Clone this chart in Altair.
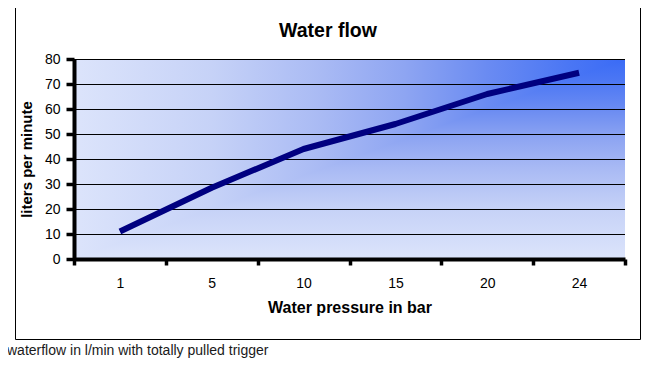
import altair as alt
import pandas as pd

# ---- data ----
pressure = ["1", "5", "10", "15", "20", "24"]
flow = [11, 28.5, 44, 54, 66, 74.5]
y_ticks = [0, 10, 20, 30, 40, 50, 60, 70, 80]

title_text = "Water flow"
x_title = "Water pressure in bar"
y_title = "liters per minute"
caption = "waterflow in l/min with totally pulled trigger"

# ---- styling ----
W, H = 551, 200
FONT = "Liberation Sans, Arial, Helvetica, sans-serif"
grad_offsets = [0.0, 0.1, 0.25, 0.4, 0.55, 0.75, 1.0]
grad_colors = ["#3a6bf6", "#4a76f4", "#6a8bf2", "#8ea5f2", "#a9baf4", "#c6d2f7", "#dce4fb"]
stops = [{"offset": o, "color": c} for o, c in zip(grad_offsets, grad_colors)]

df = pd.DataFrame({"pressure": pressure, "flow": flow})
grid_df = pd.DataFrame({"v": y_ticks})
one = alt.Data(values=[{"t": 0}])

y_scale = alt.Scale(domain=[0, 80], nice=False, zero=True)
y_axis = alt.Axis(
    title=y_title, values=y_ticks, grid=False,
    domainColor="black", domainWidth=4, tickColor="black", tickWidth=3.5, tickSize=8,
    labelFont=FONT, labelFontSize=14, labelColor="black", labelPadding=6,
    titleFont=FONT, titleFontSize=15, titleFontWeight="bold", titleColor="black",
    titleAngle=270, titleX=-48, titleY=H / 2, titleAlign="center", titleBaseline="middle",
    zindex=1,
)

# background: vertical gradient (lower-right part of the "from corner" fill)
bg = alt.Chart(one).mark_rect(
    color={"gradient": "linear", "x1": 0, "y1": 0, "x2": 0, "y2": 1, "stops": stops}
).encode(x=alt.value(0), x2=alt.value(W), y=alt.value(0), y2=alt.value(H))

# upper-left triangle with horizontal gradient
tri = alt.Chart(alt.Data(values=[{"px": 0, "py": H}, {"px": W, "py": 0}])).mark_area(
    color={"gradient": "linear", "x1": 1, "y1": 0, "x2": 0, "y2": 0, "stops": stops}
).encode(
    x=alt.X("px:Q", scale=None),
    y=alt.Y("py:Q", scale=None),
    y2=alt.value(0),
)

grid = alt.Chart(grid_df).mark_rule(color="black", strokeWidth=1, yOffset=0.5).encode(
    y=alt.Y("v:Q", scale=y_scale, axis=y_axis)
)

line = alt.Chart(df).mark_line(
    color="#000080", strokeWidth=6, strokeCap="butt", strokeJoin="round"
).encode(
    x=alt.X(
        "pressure:O",
        sort=pressure,
        bandPosition=0.5,
        scale=alt.Scale(type="band", paddingInner=0, paddingOuter=0),
        axis=alt.Axis(
            title=x_title, grid=False, labelAngle=0, tickBand="extent",
            domainColor="black", domainWidth=4, tickColor="black", tickWidth=3.5, tickSize=6,
            labelFont=FONT, labelFontSize=14, labelColor="black", labelPadding=11,
            titleFont=FONT, titleFontSize=16, titleFontWeight="bold", titleColor="black",
            titleX=W / 2, titleY=40, titleBaseline="top", titleAlign="center", zindex=1,
        ),
    ),
    y=alt.Y("flow:Q", scale=y_scale, axis=y_axis),
)

title = alt.Chart(alt.Data(values=[{"t": title_text}])).mark_text(
    font=FONT, fontSize=19.5, fontWeight="bold", color="black", align="center", baseline="alphabetic"
).encode(x=alt.value(254), y=alt.value(-22.3), text="t:N")

box = alt.Chart(one).mark_rect(fillOpacity=0, stroke="black", strokeWidth=1).encode(
    x=alt.value(-58.5), x2=alt.value(566.5), y=alt.value(-53.5), y2=alt.value(280.5)
)

cap = alt.Chart(alt.Data(values=[{"t": caption}])).mark_text(
    font=FONT, fontSize=14, color="#1a1a1a", align="left", baseline="alphabetic"
).encode(x=alt.value(-67), y=alt.value(296), text="t:N")

chart = alt.layer(bg, tri, grid, line, title, box, cap).properties(
    width=W,
    height=H,
    padding={"left": 66, "top": 51, "right": 16, "bottom": 104},
    autosize=alt.AutoSizeParams(type="none"),
    background="white",
).configure_view(strokeWidth=0)

chart.save("out.html", embed_options={"renderer": "svg", "actions": False})
